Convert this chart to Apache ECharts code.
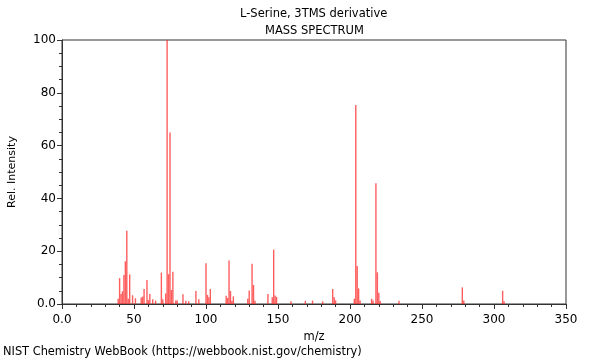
<!DOCTYPE html>
<html>
<head>
<meta charset="utf-8">
<script src="https://cdn.jsdelivr.net/npm/echarts@6/dist/echarts.min.js"></script>
<style>
html,body{margin:0;padding:0;background:#fff;}
#c{width:600px;height:360px;}
</style>
</head>
<body>
<div id="c"></div>
<script>
const titleText = "L-Serine, 3TMS derivative";
const subtitleText = "MASS SPECTRUM";
const footerText = "NIST Chemistry WebBook (https://webbook.nist.gov/chemistry)";
const xAxisName = "m/z";
const yAxisName = "Rel. Intensity";

const mz = [39,40,41,42,43,44,45,46,47,49,51,55,56,57,59,60,61,63,65,69,70,72,73,74,75,76,77,79,80,84,86,88,93,95,100,101,102,103,114,115,116,117,118,119,129,130,132,133,134,143,146,147,148,149,159,169,174,181,188,189,190,203,204,205,206,207,215,216,218,219,220,221,234,278,279,306,307];
const intensity = [2.0,9.8,3.8,4.8,11,16.2,27.7,2,11.2,3.3,2.2,2.5,2.8,5.7,9.1,1.5,3.8,1.8,1.3,11.9,1.8,4,100,11.3,65,5.3,12.2,1.3,1.3,3.7,1.2,1,4.9,1.8,15.4,3.4,2.6,5.7,3.1,2.3,16.5,4.9,1.2,2.9,2.0,5.1,15.2,7.2,1.2,3.8,2.6,20.6,3.2,2.7,1,1.2,1.3,1,5.7,2.6,1.4,2,75.4,14.4,5.9,1.3,2.0,1.3,45.7,12,4.3,1.1,1.2,6.3,1.3,5.0,1.0];

const xMin = 0, xMax = 350, xStep = 50;
const yMin = 0, yMax = 100, yStep = 20;

const data = mz.map((m, i) => [m, intensity[i]]);
const zeroFmt = v => (v === 0 ? "0.0" : String(v));
const font = "DejaVu Sans";

const chart = echarts.init(document.getElementById('c'), null, {renderer: 'canvas'});
chart.setOption({
  animation: false,
  backgroundColor: '#fff',
  textStyle: {fontFamily: font},
  title: [
    {text: titleText, left: 240, top: 8, padding: 0,
     textStyle: {fontFamily: font, fontSize: 11.5, fontWeight: 'normal', color: '#000'}},
    {text: subtitleText, left: 265, top: 25, padding: 0,
     textStyle: {fontFamily: font, fontSize: 11.5, fontWeight: 'normal', color: '#000'}},
    {text: footerText, left: 3, top: 347, padding: 0,
     textStyle: {fontFamily: font, fontSize: 11.4, fontWeight: 'normal', color: '#000'}}
  ],
  grid: {left: 62, right: 34, top: 40, bottom: 56, show: true, borderColor: '#333', borderWidth: 1,
         backgroundColor: 'transparent', containLabel: false, outerBoundsMode: 'none'},
  xAxis: {
    type: 'value', min: xMin, max: xMax, interval: xStep,
    name: xAxisName, nameLocation: 'middle', nameGap: 23,
    nameTextStyle: {fontFamily: font, fontSize: 11.5, color: '#000'},
    axisLine: {show: true, onZero: false, lineStyle: {color: '#333', width: 1}},
    axisTick: {show: true, length: 5, lineStyle: {color: '#333'}},
    minorTick: {show: true, splitNumber: 5, length: 3, lineStyle: {color: '#333'}},
    axisLabel: {formatter: zeroFmt, fontFamily: font, fontSize: 12, color: '#000', margin: 10},
    splitLine: {show: false}
  },
  yAxis: {
    type: 'value', min: yMin, max: yMax, interval: yStep,
    name: yAxisName, nameLocation: 'middle', nameGap: 44, nameRotate: 90,
    nameTextStyle: {fontFamily: font, fontSize: 11, color: '#000'},
    axisLine: {show: true, lineStyle: {color: '#333', width: 1}},
    axisTick: {show: true, length: 5, lineStyle: {color: '#333'}},
    minorTick: {show: true, splitNumber: 4, length: 3, lineStyle: {color: '#333'}},
    axisLabel: {formatter: zeroFmt, fontFamily: font, fontSize: 12, color: '#000', margin: 6},
    splitLine: {show: false}
  },
  series: [{
    type: 'bar',
    data: data,
    barWidth: 1.4,
    itemStyle: {color: 'rgba(255,40,40,0.75)'},
    silent: true
  }]
});
</script>
</body>
</html>
